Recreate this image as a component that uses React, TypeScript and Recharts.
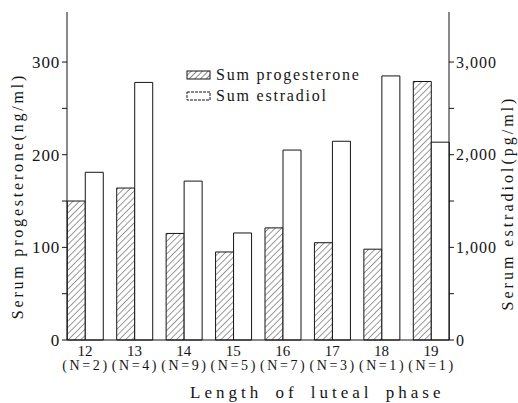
import React from 'react'
import { BarChart, Bar, XAxis, YAxis, Legend, Label } from 'recharts'

const lengths = [12, 13, 14, 15, 16, 17, 18, 19]
const counts = [2, 4, 9, 5, 7, 3, 1, 1]
const progesterone = [150, 164, 115, 95, 121, 105, 98, 279]
const estradiol = [1810, 2780, 1715, 1155, 2050, 2145, 2850, 2135]
const leftTicks = [0, 50, 100, 150, 200, 250, 300]
const rightTicks = [0, 500, 1000, 1500, 2000, 2500, 3000]
const seriesOrder = ['prog', 'estr']

const data = lengths.map((len, i) => ({
  len,
  prog: progesterone[i],
  estr: estradiol[i],
}))

const INK = '#151515'
const FONT = '"Liberation Serif", "Times New Roman", "DejaVu Serif", serif'

function LeftTick({ x, y, payload }: any) {
  if (payload.value % 100 !== 0) return null
  return (
    <text x={x} y={y} dy="0.36em" textAnchor="end" fill={INK} fontSize={17} letterSpacing={0.8} fontFamily={FONT}>
      {payload.value}
    </text>
  )
}

function RightTick({ x, y, payload }: any) {
  if (payload.value % 1000 !== 0) return null
  return (
    <text x={x} y={y} dy="0.36em" textAnchor="start" fill={INK} fontSize={16} letterSpacing={1} fontFamily={FONT}>
      {payload.value.toLocaleString('en-US')}
    </text>
  )
}

function XTick({ x, y, payload }: any) {
  const idx = lengths.indexOf(Number(payload.value))
  return (
    <g>
      <text x={x} y={y + 16} textAnchor="middle" fill={INK} fontSize={15} fontFamily={FONT}>
        {payload.value}
      </text>
      <text x={x + 1} y={y + 30} textAnchor="middle" fill={INK} fontSize={14} letterSpacing={2.6} fontFamily={FONT}>
        {`(N=${counts[idx]})`}
      </text>
    </g>
  )
}

function LegendBox({ payload }: any) {
  const items = [...(payload || [])].sort(
    (a: any, b: any) => seriesOrder.indexOf(a.dataKey) - seriesOrder.indexOf(b.dataKey)
  )
  return (
    <div style={{ fontFamily: FONT, fontSize: 16, letterSpacing: 1.8, color: INK, lineHeight: '21px' }}>
      {items.map((entry: any) => (
        <div key={entry.value} style={{ display: 'flex', alignItems: 'center', whiteSpace: 'nowrap' }}>
          <svg width={26} height={10} style={{ marginRight: 4 }}>
            <defs>
              <pattern id="hatchLegend" width="4" height="4" patternUnits="userSpaceOnUse" patternTransform="rotate(45)">
                <line x1="0" y1="0" x2="0" y2="4" stroke={INK} strokeWidth="1" />
              </pattern>
            </defs>
            <rect
              x={1}
              y={1}
              width={23}
              height={8}
              fill={entry.dataKey === 'prog' ? 'url(#hatchLegend)' : '#fff'}
              stroke={INK}
              strokeWidth={1}
              strokeDasharray={entry.dataKey === 'prog' ? undefined : '3 1'}
            />
          </svg>
          <span>{entry.value}</span>
        </div>
      ))}
    </div>
  )
}

export default function App() {
  return (
    <div style={{ position: 'absolute', left: 0, top: 0, width: 518, height: 403, background: '#fff' }}>
      <BarChart
        width={518}
        height={403}
        data={data}
        margin={{ top: 12, right: 19, bottom: 18, left: 17 }}
        barGap={0}
        style={{ fontFamily: FONT }}
      >
        <defs>
          <pattern id="hatch" width="4.5" height="4.5" patternUnits="userSpaceOnUse" patternTransform="rotate(45)">
            <rect width="4.5" height="4.5" fill="#fff" />
            <line x1="0" y1="0" x2="0" y2="4.5" stroke="#222" strokeWidth="0.9" />
          </pattern>
        </defs>
        <XAxis
          dataKey="len"
          type="number"
          domain={[11.636, 19.364]}
          ticks={lengths}
          height={45}
          interval={0}
          tickLine={false}
          tickSize={0}
          tickMargin={0}
          axisLine={{ stroke: INK }}
          tick={<XTick />}
        >
          <Label
            content={() => (
              <text x={190} y={398} textAnchor="start" fill={INK} fontSize={17} letterSpacing={4} wordSpacing={5} fontFamily={FONT}>
                Length of luteal phase
              </text>
            )}
          />
        </XAxis>
        <YAxis
          yAxisId="left"
          width={50}
          domain={[0, 354]}
          ticks={leftTicks}
          interval={0}
          tickSize={5}
          tickLine={{ stroke: INK }}
          axisLine={{ stroke: INK }}
          tick={<LeftTick />}
        >
          <Label
            content={() => (
              <text
                x={17}
                y={196}
                transform="rotate(-90 17 196)"
                textAnchor="middle"
                dominantBaseline="central"
                fill={INK}
                fontSize={16}
                letterSpacing={2.8}
                fontFamily={FONT}
              >
                Serum progesterone(ng/ml)
              </text>
            )}
          />
        </YAxis>
        <YAxis
          yAxisId="right"
          orientation="right"
          width={50}
          domain={[0, 3540]}
          ticks={rightTicks}
          interval={0}
          tickSize={5}
          tickLine={{ stroke: INK }}
          axisLine={{ stroke: INK }}
          tick={<RightTick />}
        >
          <Label
            content={() => (
              <text
                x={507}
                y={203}
                transform="rotate(-90 507 203)"
                textAnchor="middle"
                dominantBaseline="central"
                fill={INK}
                fontSize={16}
                letterSpacing={3}
                fontFamily={FONT}
              >
                Serum estradiol(pg/ml)
              </text>
            )}
          />
        </YAxis>
        <Legend
          content={<LegendBox />}
          layout="horizontal"
          verticalAlign="middle"
          align="center"
          wrapperStyle={{ position: 'absolute', left: 186, top: 64, width: 'auto' }}
        />
        <Bar
          yAxisId="left"
          dataKey="prog"
          name="Sum progesterone"
          fill="url(#hatch)"
          stroke={INK}
          strokeWidth={1}
          barSize={18}
          isAnimationActive={false}
        />
        <Bar
          yAxisId="right"
          dataKey="estr"
          name="Sum estradiol"
          fill="#fff"
          stroke={INK}
          strokeWidth={1}
          barSize={18}
          isAnimationActive={false}
        />
      </BarChart>
    </div>
  )
}
